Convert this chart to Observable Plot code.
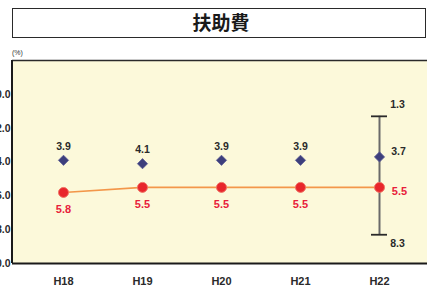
<!DOCTYPE html>
<html>
<head>
<meta charset="utf-8">
<script src="https://cdn.jsdelivr.net/npm/d3@7"></script>
<script src="https://cdn.jsdelivr.net/npm/@observablehq/plot@0.6"></script>
<style>
  html, body { margin: 0; padding: 0; background: #fff; overflow: hidden; width: 427px; height: 286px; }
  #wrap { position: relative; width: 427px; height: 286px; overflow: hidden; }
  #title { position: absolute; left: 12px; top: 8px; width: 414px; height: 30px; box-sizing: border-box;
    border: 1.5px solid #2a2a2a; text-align: center; font: bold 19px "Noto Sans CJK JP", sans-serif;
    line-height: 26px; color: #1a1a1a; padding-left: 4px; }
  #unit { position: absolute; left: 12px; top: 49px; font: 7px "Liberation Sans", sans-serif; color: #333; }
  #chart { position: absolute; left: 0; top: 59px; width: 440px; }
  #chart svg { max-width: none !important; }
</style>
</head>
<body>
<div id="wrap">
  <div id="title">扶助費</div>
  <div id="unit">(%)</div>
  <div id="chart"></div>
</div>
<script>
const years = ["H18", "H19", "H20", "H21", "H22"];
const ratio = [5.8, 5.5, 5.5, 5.5, 5.5];      // red circles
const average = [3.9, 4.1, 3.9, 3.9, 3.7];    // blue diamonds
const rangeYear = "H22";
const rangeTop = 1.3;
const rangeBottom = 8.3;
const yTicks = [0, 2, 4, 6, 8, 10];

const red = years.map((y, i) => ({year: y, v: ratio[i]}));
const avg = years.map((y, i) => ({year: y, v: average[i]}));
const lastIdx = years.indexOf(rangeYear);
const redMain = red.filter((d, i) => i !== lastIdx);
const redLast = red.filter((d, i) => i === lastIdx);
const avgMain = avg.filter((d, i) => i !== lastIdx);
const avgLast = avg.filter((d, i) => i === lastIdx);
const caps = [rangeTop, rangeBottom].map(v => ({year: rangeYear, v}));

const chart = Plot.plot({
  width: 440,
  height: 227,
  marginTop: 1,
  marginBottom: 23,
  marginLeft: 12,
  marginRight: 0,
  style: {fontFamily: "'Liberation Sans', Arial, sans-serif", background: "transparent", maxWidth: "none"},
  x: {type: "point", domain: years, range: [62, 380], padding: 0, label: null},
  y: {domain: [-2, 10], reverse: true, label: null},
  marks: [
    Plot.frame({fill: "#fcf9da", stroke: null}),
    Plot.ruleY([-2], {stroke: "#2a2a2a", strokeWidth: 1.5}),
    Plot.ruleY([10], {stroke: "#1a1a1a", strokeWidth: 2}),
    Plot.axisY({ticks: yTicks, tickFormat: d => d.toFixed(1), tickSize: 0, tickPadding: 2,
      fontWeight: "bold", fontSize: 10.5, color: "#2a2a2a", label: null}),
    Plot.axisX({tickSize: 0, tickPadding: 14, fontWeight: "bold", fontSize: 11, color: "#2a2a2a", label: null}),
    // range bar
    Plot.ruleX([rangeYear], {y1: rangeTop, y2: rangeBottom, stroke: "#6a6a6a", strokeWidth: 2}),
    Plot.ruleY(caps, {x1: "year", x2: "year", y: "v", insetLeft: -8, insetRight: -8, stroke: "#2a2a2a", strokeWidth: 1.8}),
    Plot.text(caps.slice(0, 1), {x: "year", y: "v", text: d => d.v.toFixed(1), dx: 18, dy: -12,
      fontWeight: "bold", fontSize: 10.5, fill: "#2a2a2a"}),
    Plot.text(caps.slice(1), {x: "year", y: "v", text: d => d.v.toFixed(1), dx: 18, dy: 9,
      fontWeight: "bold", fontSize: 10.5, fill: "#2a2a2a"}),
    // red series
    Plot.line(red, {x: "year", y: "v", stroke: "#f3974a", strokeWidth: 1.6}),
    Plot.dot(red, {x: "year", y: "v", r: 5, fill: "#e8262b", stroke: "#f07466", strokeWidth: 1}),
    Plot.text(redMain, {x: "year", y: "v", text: d => d.v.toFixed(1), dy: 17, fontWeight: "bold", fontSize: 11, fill: "#e8203a"}),
    Plot.text(redLast, {x: "year", y: "v", text: d => d.v.toFixed(1), dx: 20, dy: 4, fontWeight: "bold", fontSize: 11, fill: "#e8203a"}),
    // average series
    Plot.dot(avg, {x: "year", y: "v", symbol: "diamond2", r: 4.6, fill: "#3d3f7c", stroke: "#5a5c96", strokeWidth: 0.8}),
    Plot.text(avgMain, {x: "year", y: "v", text: d => d.v.toFixed(1), dy: -14, fontWeight: "bold", fontSize: 10.5, fill: "#2a2a2a"}),
    Plot.text(avgLast, {x: "year", y: "v", text: d => d.v.toFixed(1), dx: 19, dy: -5, fontWeight: "bold", fontSize: 10.5, fill: "#2a2a2a"})
  ]
});
document.getElementById("chart").appendChild(chart);

// left border of the frame, along the y scale's extent
const ys = chart.scale("y");
d3.select(chart).append("line")
  .attr("x1", 12).attr("x2", 12)
  .attr("y1", ys.apply(-2)).attr("y2", ys.apply(10))
  .attr("stroke", "#1a1a1a").attr("stroke-width", 2);
</script>
</body>
</html>
